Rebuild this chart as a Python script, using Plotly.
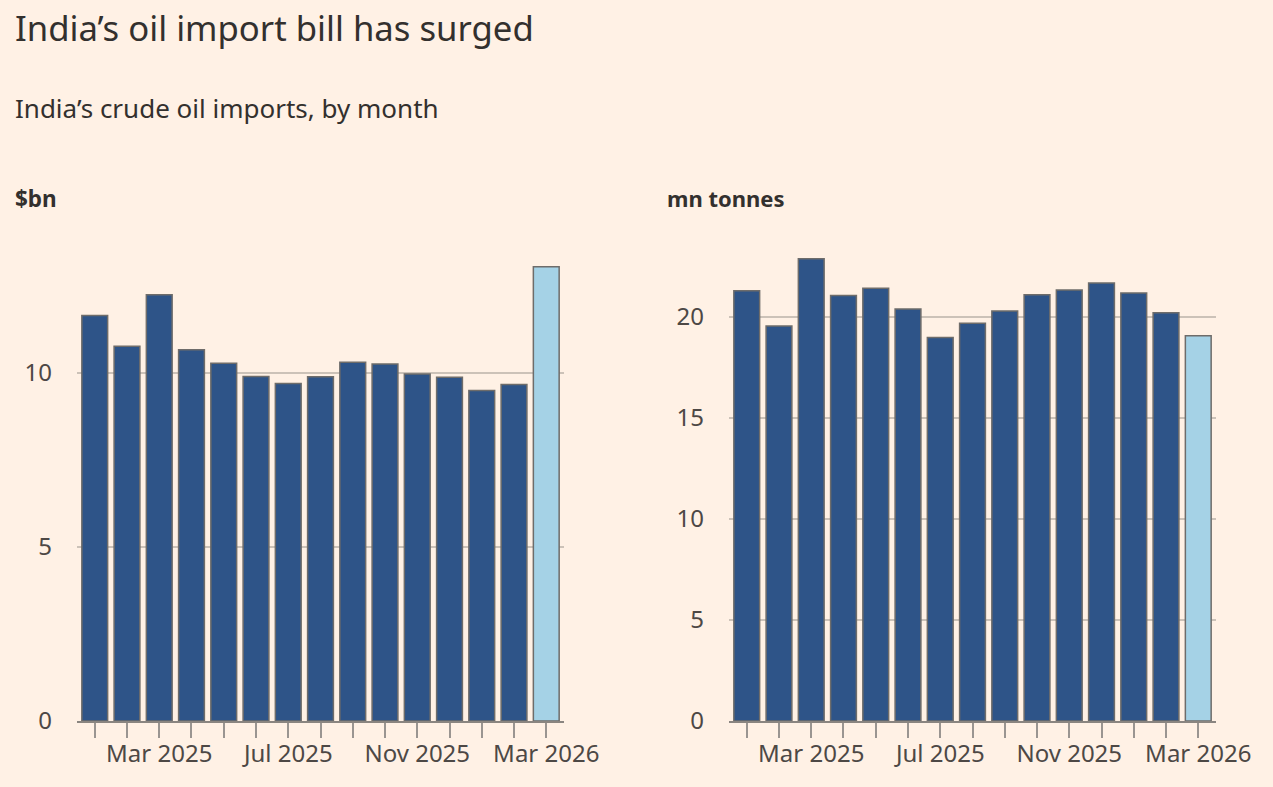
import plotly.graph_objects as go

# meses (jan 2025 - mar 2026)
months = ["Jan 2025", "Feb 2025", "Mar 2025", "Apr 2025", "May 2025", "Jun 2025",
          "Jul 2025", "Aug 2025", "Sep 2025", "Oct 2025", "Nov 2025", "Dec 2025",
          "Jan 2026", "Feb 2026", "Mar 2026"]
tick_labels = ["", "", "Mar 2025", "", "", "", "Jul 2025", "", "", "",
               "Nov 2025", "", "", "", "Mar 2026"]

# valor das importações ($bn) e volume (mn tonnes)
bill_bn = [11.65, 10.77, 12.25, 10.67, 10.28, 9.90, 9.70, 9.89,
           10.31, 10.26, 9.97, 9.88, 9.50, 9.67, 13.05]
volume_mt = [21.30, 19.55, 22.89, 21.07, 21.42, 20.40, 18.98, 19.69,
             20.30, 21.10, 21.34, 21.68, 21.19, 20.21, 19.07]

W, H = 1273, 787
BG = "#FFF1E5"
DARK = "#2E5488"
LIGHT = "#A5D2E6"
TEXT = "#33302E"
TICK = "#4D4845"
FONT = "Noto Sans"

cores = [DARK] * (len(months) - 1) + [LIGHT]

fig = go.Figure()
for vals, xa, ya in [(bill_bn, "x", "y"), (volume_mt, "x2", "y2")]:
    fig.add_trace(go.Bar(
        x=months, y=vals, xaxis=xa, yaxis=ya,
        marker=dict(color=cores, line=dict(color="#6E6C6A", width=1.5)),
        showlegend=False, hoverinfo="x+y",
    ))


def px_x(p):
    return p / W


def px_y(p):
    return 1 - p / H


y_dom = [px_y(721), px_y(255)]
eixo_x = dict(
    type="category", tickmode="array", tickvals=months, ticktext=tick_labels,
    ticks="outside", ticklen=15, tickwidth=1.5, tickcolor="#9A9591",
    showline=True, linecolor="#8A8580", linewidth=2, ticklabelstandoff=-5,
    showgrid=False, zeroline=False, range=[-0.55, 14.55], automargin=False,
    tickfont=dict(family=FONT, size=24, color=TICK), fixedrange=True,
)
eixo_y = dict(
    showgrid=True, gridcolor="#CCC2B8", gridwidth=1.5, zeroline=False,
    ticks="", tickfont=dict(family=FONT, size=24, color=TICK), automargin=False,
    ticklabelstandoff=24, domain=y_dom, fixedrange=True,
)

fig.update_layout(
    width=W, height=H,
    paper_bgcolor=BG, plot_bgcolor=BG,
    margin=dict(l=0, r=0, t=0, b=0),
    bargap=0.2,
    xaxis=dict(eixo_x, domain=[px_x(77), px_x(564)], anchor="y"),
    xaxis2=dict(eixo_x, domain=[px_x(729), px_x(1216)], anchor="y2"),
    yaxis=dict(eixo_y, range=[0, 13.39], tickvals=[0, 5, 10], anchor="x"),
    yaxis2=dict(eixo_y, range=[0, 23.07], tickvals=[0, 5, 10, 15, 20], anchor="x2"),
    font=dict(family=FONT, color=TEXT),
)

textos = [
    ("India’s oil import bill has surged", 13, 27, 34.7),
    ("India’s crude oil imports, by month", 13, 108, 26),
    ("<b>$bn</b>", 13, 198, 22.5),
    ("<b>mn tonnes</b>", 665, 198, 22),
]
for txt, x, y, size in textos:
    fig.add_annotation(
        text=txt, xref="paper", yref="paper", x=px_x(x), y=px_y(y),
        xanchor="left", yanchor="middle", showarrow=False,
        font=dict(family=FONT, size=size, color=TEXT),
    )

fig.write_html("out.html", config={"displayModeBar": False},
               post_script="document.body.style.margin='0';"
                           "document.documentElement.style.overflow='hidden';"
                           "document.body.style.overflow='hidden';")
